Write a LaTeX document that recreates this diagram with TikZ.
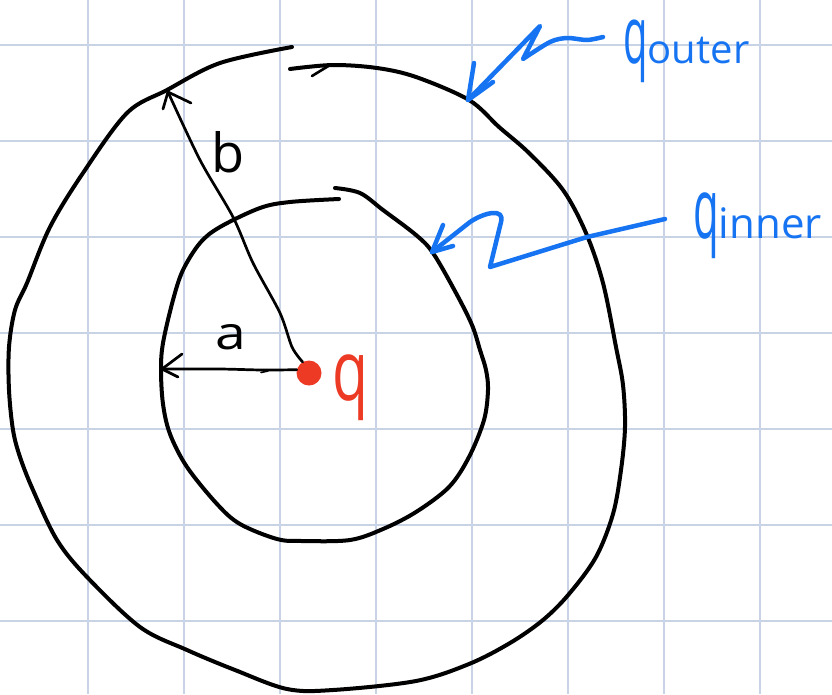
\documentclass[tikz,border=0pt]{standalone}
\usepackage{fontspec}
\setmainfont{Open Sans}
\usepackage{graphicx}
\definecolor{gridc}{RGB}{200,211,230}
\definecolor{inkblue}{RGB}{22,116,242}
\definecolor{qred}{RGB}{236,58,36}
\begin{document}
\begin{tikzpicture}[x=1pt,y=-1pt,
  gridline/.style={draw=gridc, line width=1.6pt},
  shell/.style={draw=black, line width=4pt, line cap=round, line join=round},
  radline/.style={draw=black, line width=2.7pt, line cap=round, line join=round},
  ink/.style={draw=inkblue, line width=4.5pt, line cap=round, line join=round},
  lbl/.style={inner sep=0pt}]
\useasboundingbox[fill=white] (0,0) rectangle (832,694);
% grid
\foreach \x in {88,184,280,376,472,568,664,760}
  \draw[gridline] (\x,0) -- (\x,694);
\foreach \y in {44.7,140.7,236.7,332.7,428.7,524.7,620.7}
  \draw[gridline] (0,\y) -- (832,\y);
% outer shell
\draw[shell] plot[smooth, tension=0.55] coordinates {
  (290,69) (333,65) (377,68) (416,77) (469,100) (499,127) (529,153) (563,190)
  (586,233) (603,283) (616,347) (623,385) (625,427) (621,470) (613,514) (596,557)
  (569,594) (543,620) (510,643) (469,664) (416,681) (333,690) (287,689) (235,670)
  (187,650) (140,627) (87,577) (57,540) (33,490) (20,457) (13,430) (9,390) (9,347)
  (15,310) (27,283) (50,227) (83,173) (127,113) (167,90) (220,63) (292,47)};
\draw[shell, line width=2.6pt] (330,65) -- (312,76);
% inner shell
\draw[shell] plot[smooth, tension=0.55] coordinates {
  (335,188) (360,193) (383,210) (416,235) (433,253) (456,293) (472,325) (480,350)
  (486,370) (488,390) (484,420) (469,457) (449,487) (416,512) (383,529) (350,540)
  (303,541) (277,539) (240,524) (217,504) (187,467) (170,434) (163,404) (161,370)
  (163,343) (173,300) (183,270) (200,243) (220,227) (260,208) (290,202) (339,199)};
% charge
\node[circle, fill=qred, minimum size=25pt, inner sep=0pt] (q) at (309,373) {};
\coordinate (btip) at (168,92);
\coordinate (atip) at (162,369);
% radius b
\draw[radline] plot[smooth, tension=0.5] coordinates {
  (q.120) (292,347) (280,313) (253,263) (233,217) (200,160) (btip)};
\draw[radline] (163,109) -- (btip) -- (191,103);
% radius a
\draw[radline] plot[smooth, tension=0.5] coordinates {
  (q.165) (262,370) (220,369) (btip |- atip) (atip)};
\draw[radline] (182,354) -- (atip) -- (178,377);
\draw[radline, line width=1.6pt] (261,372.5) -- (268,371);
% labels
\node[lbl, font=\fontsize{54}{60}\selectfont] (lb) at (228,152) {b};
\node[lbl, font=\fontsize{46}{50}\selectfont] (la) at (231,337) {\scalebox{1.2}[1]{a}};
\node[lbl, text=qred, font=\fontsize{42}{48}\selectfont] (lq) at (351,388) {\scalebox{1.4}[2]{q}};
\node[lbl, text=inkblue, font=\fontsize{40}{46}\selectfont, anchor=base west] (qo) at (623,63) {\scalebox{1}[2]{q}outer};
\node[lbl, text=inkblue, font=\fontsize{42}{48}\selectfont, anchor=base west] (qi) at (693,238) {\scalebox{1}[2]{q}inner};
% blue arrows
\coordinate (ostart) at (603,37);
\coordinate (otip) at (468,100);
\draw[ink] plot[smooth, tension=0.5] coordinates {(ostart) (587,40) (567,38) (550,42) (523,59)}
  -- (540,26) -- (otip);
\draw[ink] (474,63) -- (otip) -- (493,82);
\coordinate (istart) at (665,219);
\coordinate (itip) at (432,252);
\draw[ink] (istart) -- (587,237) -- (490,267) -- (501,222)
  .. controls (505,208) and (485,212) .. (470,222) -- (itip);
\draw[ink] (443,225) -- (itip) -- (453,246);
\end{tikzpicture}
\end{document}
